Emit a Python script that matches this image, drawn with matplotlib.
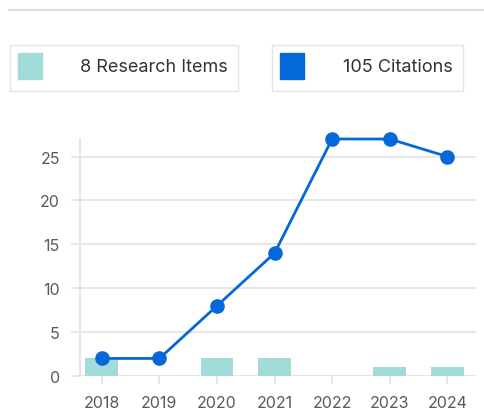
import matplotlib.pyplot as plt
from matplotlib.patches import Rectangle

years = ['2018', '2019', '2020', '2021', '2022', '2023', '2024']
research_items = [2, 0, 2, 2, 0, 1, 1]
citations = [2, 2, 8, 14, 27, 27, 25]

bar_color = '#a2dcd9'
line_color = '#0568d8'
grid_color = '#e6e6e8'
plt.rcParams['font.family'] = ['Inter', 'DejaVu Sans']

fig = plt.figure(figsize=(4.84, 4.14), dpi=100)
ax = fig.add_axes([80 / 484, 1 - 377 / 414, 396 / 484, 237 / 414])

x = list(range(len(years)))
ax.bar(x, research_items, width=0.57, color=bar_color, zorder=2)
ax.plot(x, citations, color=line_color, lw=2, marker='o', ms=9.5, zorder=3,
        clip_on=False)

ax.set_xlim(-0.38, 6.5)
ax.set_ylim(0, 27)
ax.set_yticks([0, 5, 10, 15, 20, 25])
ax.set_xticks(x)
ax.set_xticklabels(years)
ax.grid(axis='y', color=grid_color, lw=1.3, zorder=0)
for s in ['top', 'right', 'bottom']:
    ax.spines[s].set_visible(False)
ax.spines['left'].set_color(grid_color)
ax.spines['left'].set_linewidth(1.5)
ax.axhline(0, color=grid_color, lw=1.5, zorder=1)
ax.tick_params(axis='y', length=6.5, width=1.3, color=grid_color, labelsize=11.5,
               labelcolor='#5a5a5a', pad=8)
ax.tick_params(axis='x', length=6, width=1.3, color=grid_color, labelsize=11.5,
               labelcolor='#5a5a5a', pad=8)

# top rule
fig.add_artist(plt.Line2D([9 / 484, 1], [1 - 11 / 414] * 2, color='#d8d8d8', lw=1.2,
                          transform=fig.transFigure))

# legend boxes
def legend_box(x0, x1, color, text):
    fig.add_artist(Rectangle((x0 / 484, 1 - 92 / 414), (x1 - x0) / 484, 46 / 414,
                             transform=fig.transFigure, fill=False,
                             edgecolor='#e4e4e4', lw=1))
    fig.add_artist(Rectangle(((x0 + 8) / 484, 1 - 80 / 414), 24 / 484, 26 / 414,
                             transform=fig.transFigure, color=color))
    fig.text((x1 - 10) / 484, 1 - 67 / 414, text, ha='right', va='center',
             fontsize=13, color='#333333')

legend_box(10, 238, bar_color, f'{sum(research_items)} Research Items')
legend_box(272, 463, line_color, f'{sum(citations)} Citations')

fig.savefig('out.png', dpi=100)
